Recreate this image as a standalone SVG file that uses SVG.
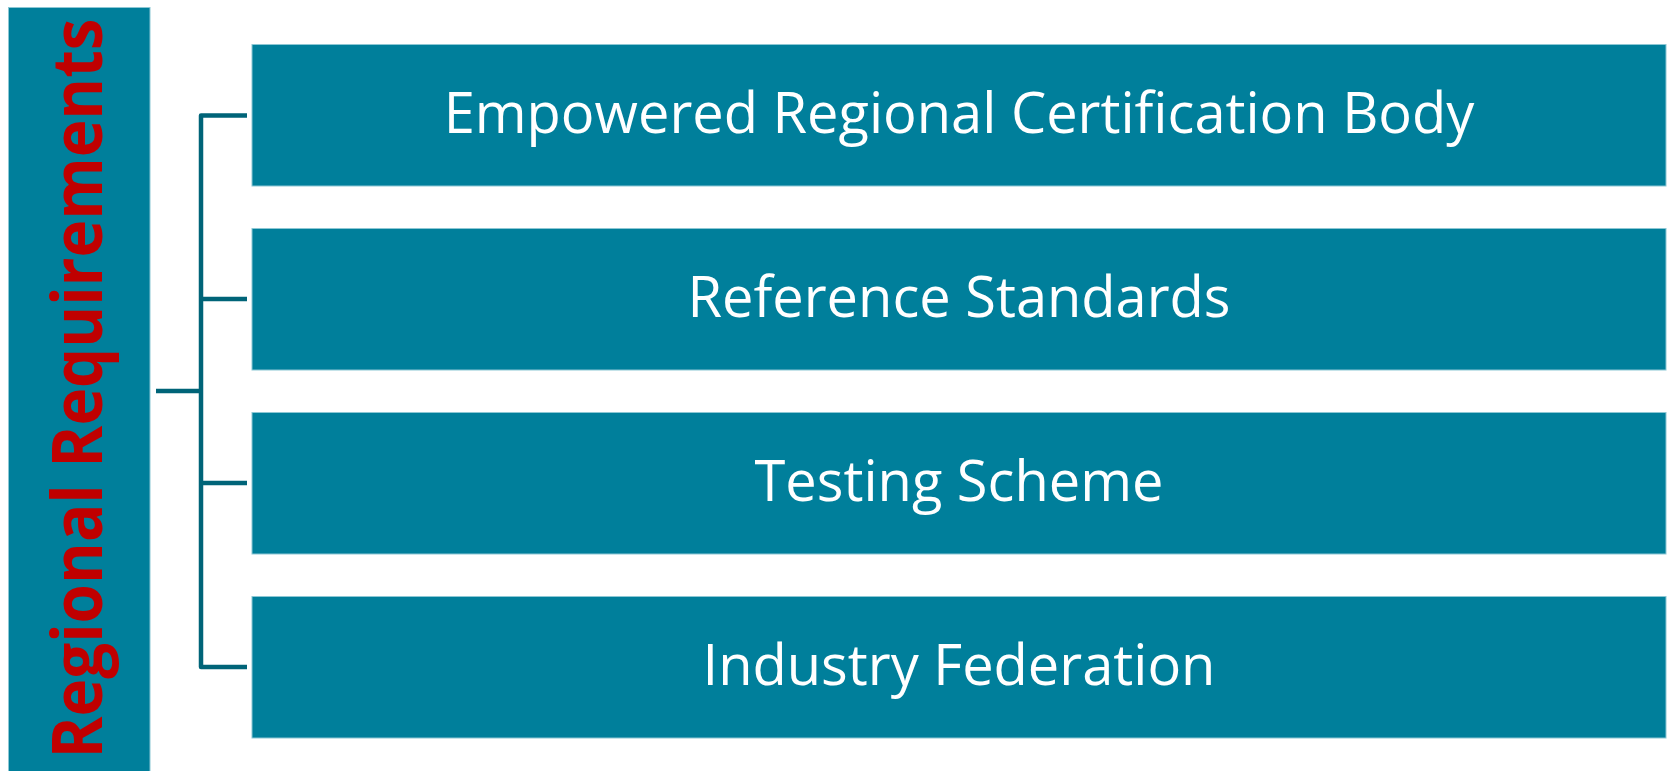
<svg xmlns="http://www.w3.org/2000/svg" width="1672" height="771" viewBox="0 0 1672 771">
<style>
.box{fill:#007f9b;stroke:#8cc7d4;stroke-width:1}
.lbl{font-family:"Open Sans","Liberation Sans",sans-serif;font-size:56px;fill:#ffffff;text-anchor:middle}
.title{font-family:"Open Sans","Liberation Sans",sans-serif;font-size:70px;font-weight:bold;fill:#c00000;text-anchor:middle}
.conn{fill:none;stroke:#006478;stroke-width:4.5;stroke-linecap:butt;stroke-linejoin:round}
</style>
<rect width="1672" height="771" fill="#ffffff"/>
<g id="root">
<rect class="box" x="8.5" y="7.5" width="141.5" height="770"/>
<text class="title" transform="translate(102,388.5) rotate(-90)" x="0" y="0" textLength="740" lengthAdjust="spacingAndGlyphs">Regional Requirements</text>
</g>
<g id="connectors">
<path class="conn" d="M156,391 H201"/>
<path class="conn" d="M247,115.5 H201 V667 H247"/>
<path class="conn" d="M201,299 H247"/>
<path class="conn" d="M201,483 H247"/>
</g>
<g id="node1">
<rect class="box" x="252" y="44.5" width="1414" height="141.5"/>
<text class="lbl" x="959" y="133">Empowered Regional Certification Body</text>
</g>
<g id="node2">
<rect class="box" x="252" y="228.5" width="1414" height="141.5"/>
<text class="lbl" x="959" y="317">Reference Standards</text>
</g>
<g id="node3">
<rect class="box" x="252" y="412.5" width="1414" height="141.5"/>
<text class="lbl" x="959" y="501">Testing Scheme</text>
</g>
<g id="node4">
<rect class="box" x="252" y="596.5" width="1414" height="141.5"/>
<text class="lbl" x="959" y="685">Industry Federation</text>
</g>
</svg>
